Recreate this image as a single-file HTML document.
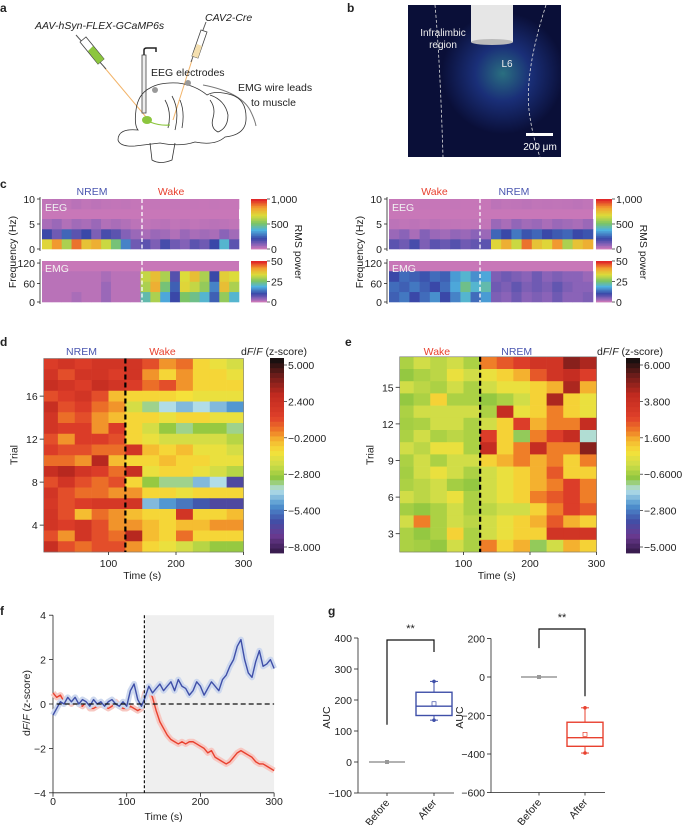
<!DOCTYPE html>
<html><head><meta charset="utf-8"><style>
html,body{margin:0;padding:0;background:#fff}
svg{display:block;font-family:"Liberation Sans",sans-serif}
text{fill:#222}
</style></head><body>
<svg id="fig" width="685" height="825" viewBox="0 0 685 825" xmlns="http://www.w3.org/2000/svg">
<defs>
<radialGradient id="glow" cx="0.62" cy="0.45" r="0.4">
<stop offset="0" stop-color="#2a6f80"/><stop offset="0.45" stop-color="#1a2f78"/><stop offset="1" stop-color="#0a0f38"/>
</radialGradient>
</defs>
<!-- Panel a -->
<g>
<text x="0" y="12" font-weight="bold" font-size="12">a</text>
<text x="35" y="29" font-size="10.5" font-style="italic">AAV-hSyn-FLEX-GCaMP6s</text>
<text x="205" y="21" font-size="10.5" font-style="italic">CAV2-Cre</text>
<line x1="104" y1="67" x2="146" y2="117" stroke="#f2b46a" stroke-width="1"/>
<line x1="192" y1="60" x2="173" y2="120" stroke="#f2b46a" stroke-width="1"/>
<g>
<line x1="76" y1="35" x2="106" y2="69" stroke="#555" stroke-width="1"/>
<polygon points="80,42 86,37 104,59 98,64" fill="#fff" stroke="#444" stroke-width="0.8"/>
<polygon points="88,51 93,46 104,59 98,64" fill="#8cc63e"/>
</g>
<g>
<line x1="206" y1="22" x2="191" y2="62" stroke="#555" stroke-width="1"/>
<polygon points="201,30 207,32 198,58 192,56" fill="#fff" stroke="#444" stroke-width="0.8"/>
<polygon points="197,44 202,46 198,58 192,56" fill="#f5e0b0"/>
</g>
<g>
<rect x="142" y="55" width="4" height="58" fill="#eee" stroke="#444" stroke-width="0.8"/>
<path d="M144 55 L144 50 Q144 48 147 48 L156 48 L156 52" fill="none" stroke="#222" stroke-width="1.5"/>
</g>
<text x="151" y="76" font-size="10.5">EEG electrodes</text>
<text x="238" y="91" font-size="10.5">EMG wire leads</text>
<text x="251" y="106" font-size="10.5">to muscle</text>
<path d="M203 85 Q240 92 250 110 Q255 120 256 126" fill="none" stroke="#777" stroke-width="1"/>
<g fill="none" stroke="#333" stroke-width="0.8">
<path d="M138 130 Q118 128 118 140 Q120 147 135 146 L160 143 Q180 147 195 142 Q215 146 225 137 Q245 135 246 120 Q247 100 232 95 Q215 90 207 95 Q195 85 178 83 Q160 82 150 88 Q138 94 136 110 Q134 125 138 130 Z"/>
<path d="M210 95 Q225 100 228 115 Q228 128 218 132 Q210 128 213 118 Q216 108 210 100"/>
<path d="M165 100 Q172 112 168 128 M172 96 Q180 110 175 130 M180 100 Q185 112 182 128"/>
<path d="M150 143 L152 160 Q160 165 172 160 L175 143"/>
</g>
<ellipse cx="147" cy="120" rx="5" ry="4" fill="#8cc63e"/>
<path d="M150 122 Q160 126 170 125" stroke="#8cc63e" stroke-width="1.2" fill="none"/>
<circle cx="155" cy="90" r="3" fill="#999"/><circle cx="188" cy="83" r="3" fill="#999"/>
</g>
<!-- Panel b -->
<g>
<text x="347" y="12" font-weight="bold" font-size="12">b</text>
<rect x="408" y="5" width="153" height="152" fill="url(#glow)"/>
<rect x="471" y="5" width="42" height="37" fill="#e6e6e6"/>
<ellipse cx="492" cy="42" rx="21" ry="3" fill="#bbb"/>
<path d="M435 5 Q440 60 443 157" stroke="#ddd" stroke-width="0.8" stroke-dasharray="3,2" fill="none"/>
<path d="M546 5 Q525 70 529 110 Q532 135 540 157" stroke="#ddd" stroke-width="0.8" stroke-dasharray="3,2" fill="none"/>
<text x="443" y="36" font-size="10" text-anchor="middle" style="fill:#eee">Infralimbic</text>
<text x="443" y="48" font-size="10" text-anchor="middle" style="fill:#eee">region</text>
<text x="507" y="67" font-size="10" text-anchor="middle" style="fill:#eee">L6</text>
<rect x="526" y="133" width="27" height="3" fill="#fff"/>
<text x="540" y="150" font-size="10" text-anchor="middle" style="fill:#fff">200 μm</text>
</g>
<g id="gc"></g><g id="gd"></g><g id="ge"></g><g id="gf"></g><g id="gg"></g>
</svg>
<script>
// ---------- DATA ----------
const eegLeft=[[700,850,600,900,750,800,650,500,300,120,150,100,180,120,90,150,120,200,400,150],
[200,120,250,150,200,100,180,150,90,60,40,60,50,30,60,40,50,40,80,50],
[40,60,30,50,40,60,30,40,30,15,10,15,20,10,15,10,15,20,15,10],
[10,15,10,20,10,15,10,8,10,5,3,5,3,5,3,5,3,5,3,3]];
const eegRight=[[150,120,180,100,150,130,160,120,140,150,700,800,650,900,750,700,850,600,750,800],
[60,80,40,90,60,50,70,60,80,60,250,200,280,220,250,200,230,250,200,220],
[15,10,15,10,15,10,10,8,10,8,60,40,70,50,60,40,60,50,40,60],
[3,5,3,5,3,3,5,3,3,3,15,10,12,15,10,12,10,12,15,10]];
const emgLeft=[[1,1,1,2,1,1,3,1,1,1,22,30,18,10,26,24,20,12,28,20],
[1,1,1,1,1,1,3,1,1,1,30,40,25,12,35,32,28,15,38,30],
[1,1,1,1,1,1,2,1,1,1,32,38,30,8,34,38,30,10,36,34],
[0,0,0,0,0,0,0,0,0,0,1,1,1,0,1,1,1,0,1,1]];
const emgRight=[[12,14,10,13,16,10,15,20,13,17,5,4,6,4,5,4,6,4,4,5],
[13,12,14,12,10,13,18,24,20,22,6,5,7,5,6,5,7,5,4,4],
[10,13,12,11,13,12,17,20,16,18,5,6,5,4,6,4,5,4,4,3],
[1,1,1,1,1,1,1,1,1,1,0,0,0,0,0,0,0,0,0,0]];
const spectroBands=["0-3","3-6","6-9","9-10"];

const dRows=[
[1.5,2,1.5,2,2,2,1,0,0.5,-1,-1.5,-2],
[2,1,2,2,1.5,2,0,-1,0,-1,-1,-1.5],
[2.5,2,1.5,2.5,2,1.5,0.5,1,0,-1,-1,-1],
[1,1.5,2,1,-0.5,-1,-1,-1,-1.2,-1.5,-1.5,-1.5],
[2.5,1,1.5,0.5,0,-2,-3.5,-4,-4.5,-4,-4.5,-5],
[2,0.5,1,0,-0.5,-1,-1,-1.5,-1,-1,-1.5,-1.5],
[2,1.5,1.5,0,1.5,-1,-2,-3,-3.5,-3,-3,-3.5],
[1,0,1.5,1.5,1,-1,-1.5,-2,-2,-2,-2,-2.5],
[1.5,1,1,0.5,0.5,2,-0.5,-1,-0.5,-1.5,-1.5,-2],
[0.5,0.5,0,3,-0.5,-1,-1,-0.5,-1,-1,-1.5,-1.5],
[2.5,3,2,1.5,0.5,2.5,-1.5,-1,-1,-1.5,-2,-2.5],
[1,2,1,0.5,1,-1,-3,-3.5,-3.5,-4.5,-4,-6.5],
[2,1,0.5,0.5,0,0,-1,-1,-1.5,-1,-1,-1],
[1.8,1,1.5,1.8,1.8,2,-4.5,-5,-5.5,-6,-6.5,-6.5],
[2,1,-0.5,0.5,0,-0.5,-1,-1,2,-1,-1,-0.5],
[2,1.5,2,1,0,0,-0.5,-1,-0.5,-0.5,0,0],
[1,0,2,1,0.5,3,-0.5,-1,0.5,-1,-1,-1],
[2.5,1,0.5,1,1,0,-1,-1.5,-2,-2.5,-3,-3]];
const dTrialTicks=[4,8,12,16];
const dCbarTicks=["5.000","2.400","\u22120.2000","\u22122.800","\u22125.400","\u22128.000"];
const eRows=[
[-0.5,0,-0.3,0,-0.5,2,2.5,3,3.5,3.5,5,4.5],
[-0.8,-0.5,-0.3,0.5,0,0.5,1,1.5,2.5,3.5,4,3],
[0,-0.3,-0.5,0,-0.5,0,0.5,0.5,1,1.5,4.5,1.5],
[-0.8,-0.5,1,-0.5,-0.5,-0.8,-0.5,0,1,4.5,1,0.5],
[-0.5,0,0,0,0,-0.5,4,0.5,1,2,1,0.5],
[-0.6,-0.5,0,0,-0.5,0,1,3,1.5,2,2,4],
[-0.5,0,-0.5,-0.3,-0.5,3,1,-1,2,3,4,-1.5],
[0,-0.3,0.5,0.5,-0.5,4,1,2,4,2,2,5],
[-0.5,0,-0.5,0,0,1,1.5,2,1.5,2,1,2],
[-0.6,0,0.5,0,-0.5,0,0.5,1,1.5,2.5,1,1],
[-0.5,-0.3,0,-0.6,-0.8,0,0.5,1,1.5,2,3,2],
[0,-0.3,0,0.5,-0.5,0,0.5,1,2,2.5,3,2],
[-0.6,-0.8,-0.5,0,-0.5,-0.3,0,0,1,2,3,2.5],
[0,2,-0.5,0,-0.3,0,0.5,1,1.5,2.5,1.5,1],
[-0.5,-0.8,-0.5,1,-0.5,0,0.5,1,1,3.5,3.5,3.5],
[-0.5,-0.6,-0.8,0,-0.5,2,1,1.5,-1,0,1.5,1]];
const eTrialTicks=[3,6,9,12,15];
const eCbarTicks=["6.000","3.800","1.600","\u22120.6000","\u22122.800","\u22125.000"];
const timeTicks=[100,200,300];

const fTimes=[0,5,10,15,20,25,30,35,40,45,50,55,60,65,70,75,80,85,90,95,100,105,110,115,120,125,130,135,140,145,150,155,160,165,170,175,180,185,190,195,200,205,210,215,220,225,230,235,240,245,250,255,260,265,270,275,280,285,290,295,300];
const blueVals=[-0.5,-0.2,0.1,0,0.3,0.1,0.3,0,0.2,0.1,-0.1,0.2,0,0.1,-0.1,0.1,0.2,0,-0.1,0.1,-0.1,0.6,0.9,0.2,-0.1,0.3,0.8,0.5,0.7,0.9,0.6,0.8,1.0,0.6,1.1,0.8,0.7,0.4,0.6,1.0,0.8,0.4,0.7,1.0,0.8,0.6,1.1,1.3,1.7,2.0,2.6,2.9,2.0,1.4,1.2,1.9,2.4,1.7,1.8,2.0,1.6];
const redVals=[0.5,0.3,0.4,0.1,0.2,0,0.2,0,-0.1,0.1,-0.2,-0.2,-0.1,0,-0.1,-0.2,-0.1,0.1,-0.1,-0.2,-0.2,-0.1,-0.2,-0.3,-0.2,0.5,0.7,0.3,-0.3,-0.8,-1.1,-1.4,-1.6,-1.7,-1.8,-1.7,-1.8,-1.7,-1.7,-1.8,-1.9,-2.0,-2.2,-2.1,-2.4,-2.5,-2.6,-2.7,-2.6,-2.4,-2.2,-2.1,-2.2,-2.3,-2.4,-2.6,-2.7,-2.7,-2.8,-2.9,-3.0];
const fYTicks=[-4,-2,0,2,4];
const fXTicks=[0,100,200,300];

const gCats=["Before","After"];
const gLeftTicks=[-100,0,100,200,300,400];
const gLeftAfter={min:135,q1:150,med:180,mean:188,q3:225,max:260};
const gRightTicks=[-600,-400,-200,0,200];
const gRightAfter={min:-395,q1:-360,med:-315,mean:-298,q3:-235,max:-160};
const gBefore=0;

// ---------- HELPERS ----------
const NS="http://www.w3.org/2000/svg";
function mk(parent,tag,attrs){const e=document.createElementNS(NS,tag);for(const k in attrs)e.setAttribute(k,attrs[k]);parent.appendChild(e);return e;}
function txt(parent,x,y,s,attrs){const e=mk(parent,"text",Object.assign({x:x,y:y,"font-size":10.5},attrs||{}));e.textContent=s;return e;}
function hex(h){return [parseInt(h.slice(1,3),16),parseInt(h.slice(3,5),16),parseInt(h.slice(5,7),16)];}
function cmap(stops,t){t=Math.max(0,Math.min(1,t));for(let i=1;i<stops.length;i++){if(t<=stops[i][0]){const a=stops[i-1],b=stops[i];const f=(t-a[0])/(b[0]-a[0]||1);const ca=hex(a[1]),cb=hex(b[1]);return "rgb("+ca.map((v,j)=>Math.round(v+(cb[j]-v)*f)).join(",")+")";}}return stops[stops.length-1][1];}
const jet=[[0,"#c877b8"],[0.08,"#8a63b8"],[0.2,"#3a48a8"],[0.38,"#4fb3e0"],[0.52,"#7cc466"],[0.68,"#dcdc3a"],[0.84,"#f2a030"],[1,"#e02828"]];
const heatD=[[0,"#3a1d50"],[0.08,"#6a3a90"],[0.16,"#4050a8"],[0.24,"#4f94d0"],[0.32,"#b6e0e8"],[0.38,"#8dc640"],[0.45,"#cddc48"],[0.52,"#f5e23a"],[0.58,"#f5b830"],[0.63,"#ef7d28"],[0.7,"#e0402a"],[0.82,"#c02a20"],[0.92,"#6e1c1a"],[1,"#1a1010"]];

// ---------- PANEL C ----------
const gc=document.getElementById("gc");
txt(gc,0,188,"c",{"font-weight":"bold","font-size":12});
function spectro(x0,x1,y0,y1,data,vmax,name){
  const g=mk(gc,"g",{});
  
  
  mk(g,"rect",{x:x0,y:y0,width:x1-x0,height:y1-y0,fill:cmap(jet,0)});
  const nb=data.length,nc=data[0].length;
  const bh=(y1-y0)*(name.indexOf("eeg")>=0?0.6:0.75)/ (nb-1);
  const cw=(x1-x0)/nc;
  data.forEach((row,bi)=>{row.forEach((v,ci)=>{
    const top=y1-(bi+1)*bh; const h=bi===nb-1?Math.max(0,top-y0):bh;
    const yy=bi===nb-1?y0:top;
    mk(g,"rect",{x:x0+ci*cw,y:yy,width:cw+0.3,height:(bi===nb-1?h:bh)+0.3,fill:cmap(jet,v/vmax)});
  });});
}
function cbar(x,y0,y1,labels,name){
  const g=mk(gc,"g",{});
  
  
  const n=30;for(let i=0;i<n;i++){mk(g,"rect",{x:x,y:y1-(i+1)*(y1-y0)/n,width:16,height:(y1-y0)/n+0.4,fill:cmap(jet,i/(n-1))});}
  labels.forEach((l,i)=>{const yy=y1-i*(y1-y0)/(labels.length-1);mk(g,"line",{x1:x+16,y1:yy,x2:x+19,y2:yy,stroke:"#222","stroke-width":0.7});txt(g,x+20,yy+4,l);});
}
function cSide(xa,xb,xd,cbx,lab1,col1,lab2,col2,eeg,emg){
  [[199,249,[["10",0],["5",0.5],["0",1]]],[261,302,[["120",0.05],["60",0.55],["0",1]]]].forEach(([y0,y1,tk])=>{
    mk(gc,"line",{x1:xa-2,y1:y0-2,x2:xa-2,y2:y1+2,stroke:"#222","stroke-width":0.8});
    tk.forEach(([s,f])=>{const yy=y0+f*(y1-y0);mk(gc,"line",{x1:xa-5,y1:yy,x2:xa-2,y2:yy,stroke:"#222","stroke-width":0.8});txt(gc,xa-7,yy+4,s,{"text-anchor":"end"});});
  });
  spectro(xa,xb,199,249,eeg,1000,"eeg-spectrogram-"+(xa<300?"left":"right"));
  spectro(xa,xb,261,302,emg,50,"emg-spectrogram-"+(xa<300?"left":"right"));
  [[199,249],[261,302]].forEach(([y0,y1])=>mk(gc,"line",{x1:xd,y1:y0,x2:xd,y2:y1,stroke:"#fff","stroke-width":1.3,"stroke-dasharray":"4,2.5"}));
  txt(gc,xa+3,211,"EEG",{style:"fill:#f2f2f2"});
  txt(gc,xa+3,272,"EMG",{style:"fill:#f2f2f2"});
  txt(gc,(xa+xd)/2,195,lab1,{"text-anchor":"middle",style:"fill:"+col1});
  txt(gc,xd+(xb-xd)*0.3,195,lab2,{"text-anchor":"middle",style:"fill:"+col2});
  cbar(cbx,199,249,["0","500","1,000"],"eeg-colorbar");
  cbar(cbx,261,302,["0","25","50"],"emg-colorbar");
  txt(gc,xa-26,252,"Frequency (Hz)",{"text-anchor":"middle",transform:"rotate(-90 "+(xa-26)+" 252)"});
  txt(gc,cbx+44,252,"RMS power",{"text-anchor":"middle",transform:"rotate(90 "+(cbx+44)+" 252)"});
}
cSide(42,239,142,251,"NREM","#4a56b0","Wake","#e8412f",eegLeft,emgLeft);
cSide(389,593,480,596,"Wake","#e8412f","NREM","#4a56b0",eegRight,emgRight);

// ---------- HEATMAPS D/E ----------
function heat(gid,label,lx,x0,xScale,xEnd,rows,tLo,tHi,rowPx,yBottom,ticks,cbx,cbLabels,vmin,vmax,lab1,c1,lab2,c2,name){
  const g=document.getElementById(gid);
  txt(g,lx,346,label,{"font-weight":"bold","font-size":12});
  const xs=t=>x0+t*xScale;
  const ys=tr=>yBottom-(tr-tLo)*rowPx;
  const hm=mk(g,"g",{});
  
  
  rows.forEach((row,ri)=>{const trial=tHi-ri;row.forEach((v,si)=>{
    const t0=Math.max(si*25,4),t1=(si+1)*25;
    const cell=mk(hm,"rect",{x:xs(t0),y:ys(trial+0.5),width:xs(t1)-xs(t0)+0.3,height:rowPx+0.3,fill:cmap(heatD,(v-vmin)/(vmax-vmin))});
    
    
  });});
  const yTop=ys(tHi+0.5);
  mk(g,"rect",{x:xs(4),y:yTop,width:xs(300)-xs(4),height:yBottom-yTop,fill:"none",stroke:"#777","stroke-width":0.6});
  mk(g,"line",{x1:xs(125),y1:yTop,x2:xs(125),y2:yBottom,stroke:"#000","stroke-width":2.2,"stroke-dasharray":"5,3"});
  ticks.forEach(tr=>{const yy=ys(tr);mk(g,"line",{x1:xs(4)-4,y1:yy,x2:xs(4),y2:yy,stroke:"#222","stroke-width":0.8});txt(g,xs(4)-6,yy+4,String(tr),{"text-anchor":"end"});});
  timeTicks.forEach(t=>{mk(g,"line",{x1:xs(t),y1:yBottom,x2:xs(t),y2:yBottom+3,stroke:"#222","stroke-width":0.8});txt(g,xs(t),yBottom+15,String(t),{"text-anchor":"middle"});});
  txt(g,xs(150),yBottom+27,"Time (s)",{"text-anchor":"middle"});
  txt(g,xs(4)-26,455,"Trial",{"text-anchor":"middle",transform:"rotate(-90 "+(xs(4)-26)+" 455)"});
  txt(g,xs(60),355,lab1,{"text-anchor":"middle",style:"fill:"+c1});
  txt(g,xs(180),355,lab2,{"text-anchor":"middle",style:"fill:"+c2});
  const cb=mk(g,"g",{});
  
  
  const N=40;for(let i=0;i<N;i++){mk(cb,"rect",{x:cbx,y:553-(i+1)*195/N,width:14,height:195/N+0.4,fill:cmap(heatD,i/(N-1))});}
  cbLabels.forEach((l,i)=>{const yy=365+i*36.4;mk(cb,"line",{x1:cbx+14,y1:yy,x2:cbx+17,y2:yy,stroke:"#222","stroke-width":0.7});txt(cb,cbx+18,yy+4,l);});
  const tt=txt(g,cbx-29,355,"",{});tt.innerHTML='d<tspan font-style="italic">F</tspan>/<tspan font-style="italic">F</tspan> (z-score)';
}
heat("gd","d",0,41,0.675,243,dRows,1.5,19,10.75,552,dTrialTicks,270,dCbarTicks,-8.3,5.3,"NREM","#4a56b0","Wake","#e8412f","heatmap-d");
heat("ge","e",345,397,0.665,597,eRows,1.5,17,12.2,552,eTrialTicks,626,eCbarTicks,-5.3,6.3,"Wake","#e8412f","NREM","#4a56b0","heatmap-e");

// ---------- PANEL F ----------
const gf=document.getElementById("gf");
txt(gf,0,615,"f",{"font-weight":"bold","font-size":12});
const fx=t=>53+t*0.737, fy=v=>704-v*22.2;
mk(gf,"rect",{x:fx(125),y:fy(4),width:fx(300)-fx(125),height:fy(-4)-fy(4),fill:"#efefef",});
mk(gf,"line",{x1:fx(0),y1:fy(4),x2:fx(0),y2:fy(-4),stroke:"#222","stroke-width":0.8});
mk(gf,"line",{x1:fx(0),y1:fy(-4),x2:fx(300),y2:fy(-4),stroke:"#222","stroke-width":0.8});
fYTicks.forEach(v=>{mk(gf,"line",{x1:fx(0)-4,y1:fy(v),x2:fx(0),y2:fy(v),stroke:"#222","stroke-width":0.8});txt(gf,fx(0)-7,fy(v)+4,v<0?"\u2212"+(-v):String(v),{"text-anchor":"end"});});
fXTicks.forEach(t=>{mk(gf,"line",{x1:fx(t),y1:fy(-4),x2:fx(t),y2:fy(-4)+4,stroke:"#222","stroke-width":0.8});txt(gf,fx(t),805,String(t),{"text-anchor":"middle"});});
txt(gf,fx(150),820,"Time (s)",{"text-anchor":"middle"});
const fl=txt(gf,30,703,"",{"text-anchor":"middle",transform:"rotate(-90 30 703)"});fl.innerHTML='d<tspan font-style="italic">F</tspan>/<tspan font-style="italic">F</tspan> (z-score)';
function trace(vals,col,lt,name){
  const pts=fTimes.map((t,i)=>fx(t)+","+fy(vals[i])).join(" ");
  mk(gf,"polyline",{points:pts,fill:"none",stroke:lt,"stroke-width":6,"stroke-linejoin":"round"});
  const l=mk(gf,"polyline",{points:pts,fill:"none",stroke:col,"stroke-width":1.4,"stroke-linejoin":"round"});
  
  
}
trace(redVals,"#e8412f","#f7c8c2","red-trace");
trace(blueVals,"#3f4fa8","#cdd8ee","blue-trace");
mk(gf,"line",{x1:fx(5),y1:fy(0),x2:fx(300),y2:fy(0),stroke:"#111","stroke-width":1.3,"stroke-dasharray":"5,3"});
mk(gf,"line",{x1:fx(124),y1:fy(4),x2:fx(124),y2:fy(-4),stroke:"#111","stroke-width":1.2,"stroke-dasharray":"3,2"});

// ---------- PANEL G ----------
const gg=document.getElementById("gg");
txt(gg,328,615,"g",{"font-weight":"bold","font-size":12});
function boxplot(ax,y0v,y0px,pxPer,ticks,xB,xA,st,col,lowBr,highBr,topPx,name){
  const y=v=>y0px-v*pxPer;
  const g=mk(gg,"g",{});
  
  
  const ymin=y(ticks[0]),ymax=y(ticks[ticks.length-1]);
  mk(g,"line",{x1:ax,y1:ymax,x2:ax,y2:ymin,stroke:"#222","stroke-width":0.8});
  mk(g,"line",{x1:ax,y1:ymin,x2:xA+20,y2:ymin,stroke:"#222","stroke-width":0.8});
  ticks.forEach(v=>{mk(g,"line",{x1:ax-4,y1:y(v),x2:ax,y2:y(v),stroke:"#222","stroke-width":0.8});txt(g,ax-6,y(v)+4,v<0?"\u2212"+(-v):String(v),{"text-anchor":"end"});});
  [[xB,gCats[0]],[xA,gCats[1]]].forEach(([x,s])=>{mk(g,"line",{x1:x,y1:ymin,x2:x,y2:ymin+3,stroke:"#222","stroke-width":0.8});txt(g,x+3,ymin+10,s,{"text-anchor":"end",transform:"rotate(-50 "+(x+3)+" "+(ymin+10)+")"});});
  const mid=y((ticks[0]+ticks[ticks.length-1])/2)+2;
  txt(g,ax-28,mid,"AUC",{"text-anchor":"middle",transform:"rotate(-90 "+(ax-28)+" "+mid+")"});
  mk(g,"line",{x1:xB-18,y1:y(gBefore),x2:xB+18,y2:y(gBefore),stroke:"#999","stroke-width":1.6});
  mk(g,"rect",{x:xB-2,y:y(gBefore)-2,width:4,height:4,fill:"#999"});
  const w=18;
  mk(g,"line",{x1:xA,y1:y(st.max),x2:xA,y2:y(st.min),stroke:col,"stroke-width":1});
  mk(g,"rect",{x:xA-w,y:y(st.q3),width:2*w,height:y(st.q1)-y(st.q3),fill:"#fff",stroke:col,"stroke-width":1.4});
  mk(g,"line",{x1:xA-w,y1:y(st.med),x2:xA+w,y2:y(st.med),stroke:col,"stroke-width":1.4});
  mk(g,"rect",{x:xA-2,y:y(st.mean)-2,width:4,height:4,fill:"none",stroke:col,"stroke-width":0.7});
  [st.min,st.max].forEach(v=>{mk(g,"line",{x1:xA-4,y1:y(v),x2:xA+4,y2:y(v),stroke:col,"stroke-width":1});mk(g,"circle",{cx:xA,cy:y(v),r:1.8,fill:col});});
  mk(g,"polyline",{points:xB+","+y(lowBr)+" "+xB+","+topPx+" "+xA+","+topPx+" "+xA+","+y(highBr),fill:"none",stroke:"#111","stroke-width":1.2});
  txt(g,(xB+xA)/2,topPx-8,"**",{"text-anchor":"middle","font-size":11});
}
boxplot(358,0,762,0.31,gLeftTicks,387,434,gLeftAfter,"#3f4fa8",120,355,640,"boxplot-left");
boxplot(491,0,677,0.1925,gRightTicks,539,585,gRightAfter,"#e8412f",150,-100,629,"boxplot-right");
</script>
</body></html>
